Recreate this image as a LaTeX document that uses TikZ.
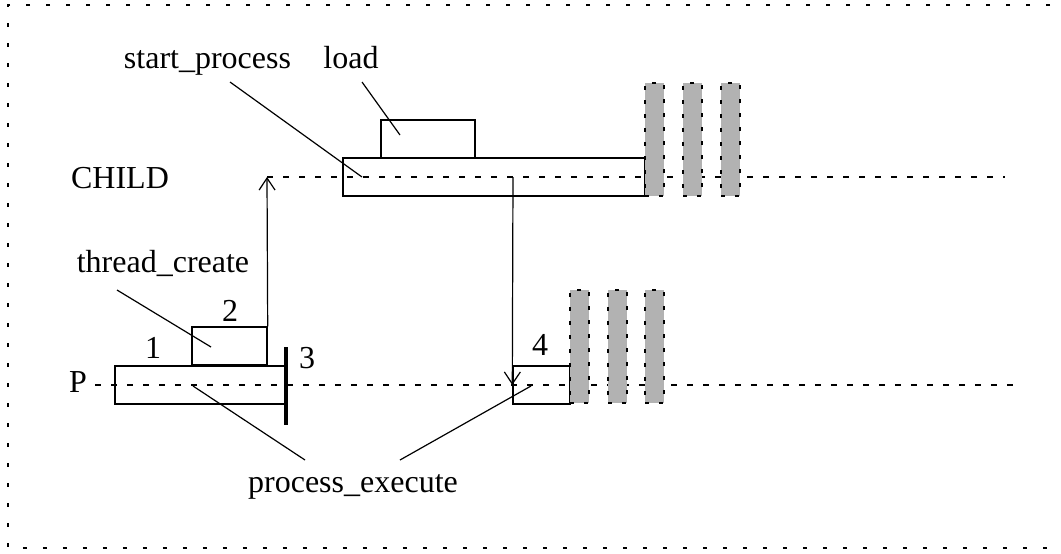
\documentclass[tikz,border=0pt]{standalone}
\usepackage{fontspec}
\setmainfont{Liberation Serif}
\usetikzlibrary{arrows.meta}

\tikzset{
    box/.style={draw,line width=0.7pt,inner sep=0pt,minimum height=19pt},
    bar/.style={fill=black!30,draw=black,line width=0.8pt,dash pattern=on 2pt off 5pt,
        inner sep=0pt,minimum width=9.5pt,minimum height=56.5pt},
    timeline/.style={line width=0.7pt,dash pattern=on 3pt off 5pt},
    leader/.style={line width=0.6pt},
    lbl/.style={anchor=base,inner sep=0pt,font=\fontsize{16}{19}\selectfont},
    call/.style={-{Straight Barb[length=6pt,width=8pt]},line width=0.6pt}
}

\begin{document}
\begin{tikzpicture}[x=0.5pt,y=-0.5pt]
    \useasboundingbox (0,0) rectangle (1061,553);
    % frame (open on the right)
    \draw[line width=0.6pt,dash pattern=on 2.2pt off 7.8pt] (1070,5) -- (8,5) -- (8,548) -- (1070,548);

    % time lines
    \coordinate (childstart) at (267,177);
    \coordinate (childend) at (1005,177);
    \coordinate (pstart) at (95,385);
    \coordinate (pend) at (1013,385);
    \draw[timeline] (childstart) -- (childend);
    \draw[timeline] (pstart) -- (pend);

    % boxes
    \node[box,minimum width=151pt] (childbox) at (494,177) {};
    \node[box,minimum width=47pt] (loadbox) at (428,139) {};
    \node[box,minimum width=85pt] (pbox) at (200,385) {};
    \node[box,minimum width=37.5pt] (tcbox) at (229.5,346) {};
    \node[box,minimum width=28.5pt] (execbox) at (541.5,385) {};
    \node[fill,inner sep=0pt,minimum width=2.4pt,minimum height=39pt] (stopbar) at (286,386) {};

    % waiting slots
    \foreach \x [count=\i] in {654.5,692.5,730.5}
        \node[bar] (cbar\i) at (\x,139.5) {};
    \foreach \x [count=\i] in {579.5,617.5,654.5}
        \node[bar] (pbar\i) at (\x,346.5) {};

    % calls
    \coordinate (fork) at (513,177);
    \draw[call] (tcbox.north east) -- (childstart);
    \draw[call] (fork) -- (execbox.west);

    % labels
    \node[lbl] (childlbl) at (120,188) {CHILD};
    \node[lbl] (plbl) at (78,392) {P};
    \node[lbl] (startlbl) at (207.5,68) {start\_process};
    \node[lbl] (loadlbl) at (351,68) {load};
    \node[lbl] (tclbl) at (163,272) {thread\_create};
    \node[lbl] (execlbl) at (353,492) {process\_execute};
    \node[lbl] (one) at (153,358) {1};
    \node[lbl] (two) at (230,321) {2};
    \node[lbl] (three) at (307,368) {3};
    \node[lbl] (four) at (540,355) {4};

    % leader lines
    \coordinate (sp1) at (230,82);
    \coordinate (sp2) at (362,177);
    \coordinate (ld1) at (362,82);
    \coordinate (ld2) at (400,135);
    \coordinate (tc1) at (117,290);
    \coordinate (tc2) at (211,347);
    \coordinate (pe1) at (305,460);
    \coordinate (pe2) at (193,386);
    \coordinate (pe3) at (400,460);
    \coordinate (pe4) at (531,386);
    \draw[leader] (sp1) -- (sp2);
    \draw[leader] (ld1) -- (ld2);
    \draw[leader] (tc1) -- (tc2);
    \draw[leader] (pe1) -- (pe2);
    \draw[leader] (pe3) -- (pe4);
\end{tikzpicture}
\end{document}
